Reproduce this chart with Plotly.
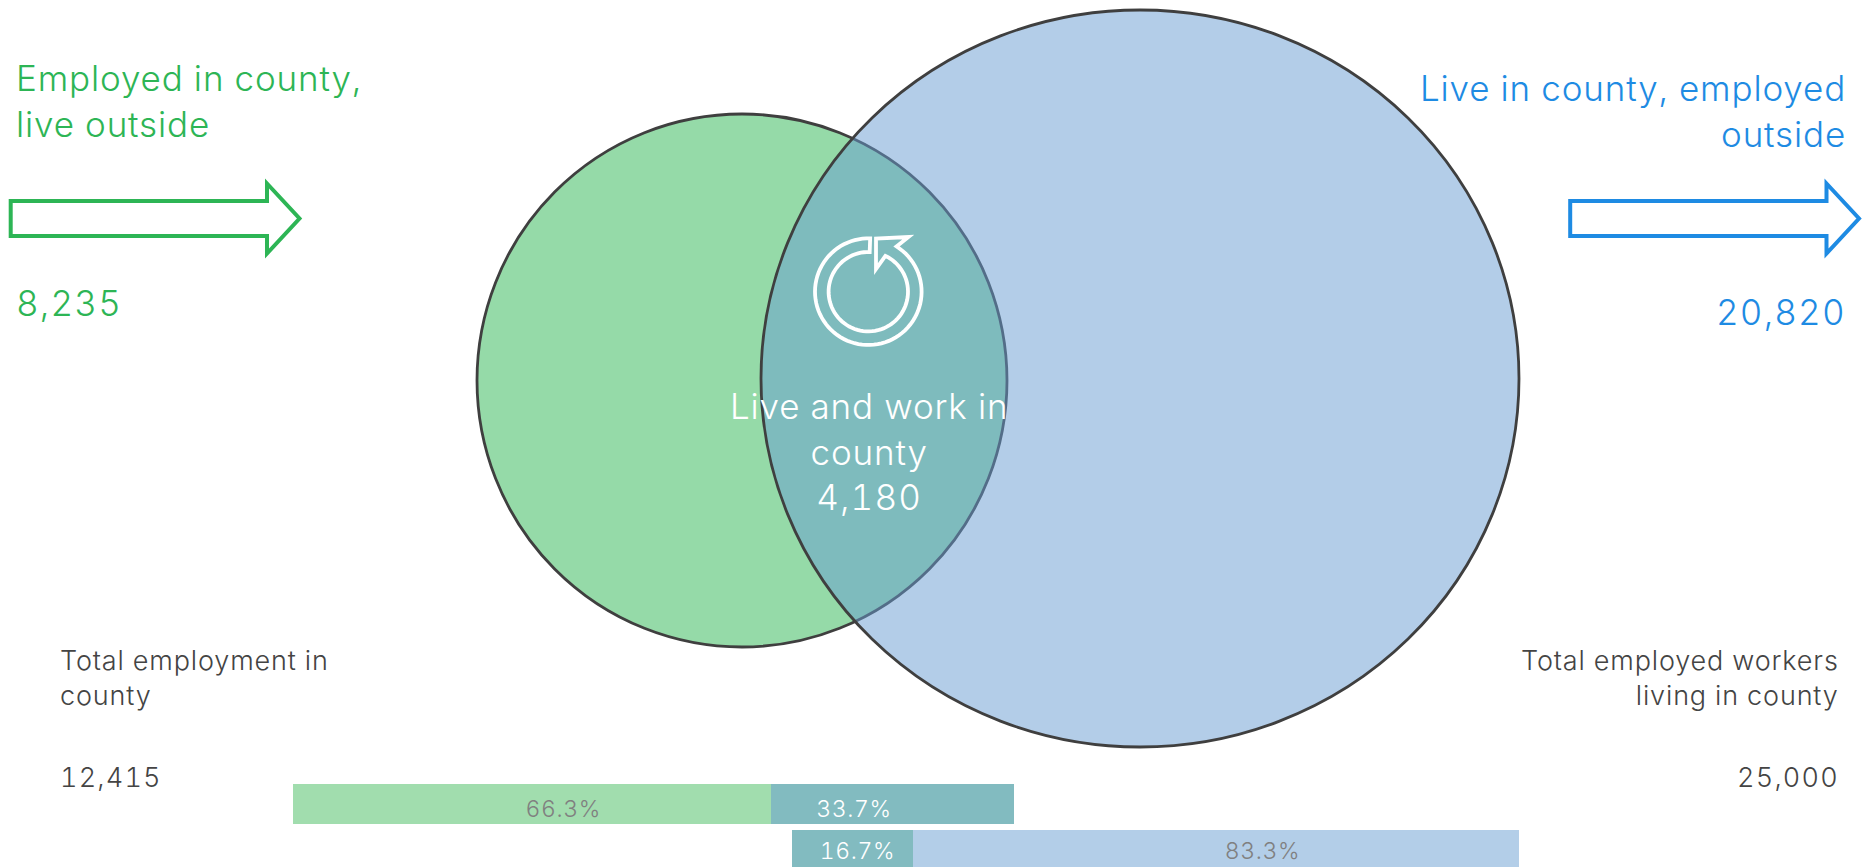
import numpy as np
import plotly.graph_objects as go

W, H = 1867, 867

# ---- data ----
outside_in = 8235
outside_out = 20820
live_work = 4180
total_employment = 12415
total_workers = 25000
employment_share_labels = ["66.3%", "33.7%"]
employment_share = [66.3, 33.7]
worker_share_labels = ["16.7%", "83.3%"]
worker_share = [16.7, 83.3]

GREEN = "#2DB555"
BLUE = "#1E8BE3"
DARK = "#444444"
FONT = "Inter"
WEIGHT = 300


def fx(x):
    return x / W


def fy(y):
    return 1 - y / H


fig = go.Figure()

# two stacked bars, each on its own pair of axes
bar_green = "#A1DDAE"
bar_mix = "#82BBC0"
bar_blue = "#B3CEE8"

fig.add_trace(go.Bar(x=[employment_share[0]], y=["a"], orientation="h", marker=dict(color=bar_green, line_width=0),
                     xaxis="x", yaxis="y", hoverinfo="skip", showlegend=False))
fig.add_trace(go.Bar(x=[employment_share[1]], y=["a"], orientation="h", marker=dict(color=bar_mix, line_width=0),
                     xaxis="x", yaxis="y", hoverinfo="skip", showlegend=False))
fig.add_trace(go.Bar(x=[worker_share[0]], y=["b"], orientation="h", marker=dict(color=bar_mix, line_width=0),
                     xaxis="x2", yaxis="y2", hoverinfo="skip", showlegend=False))
fig.add_trace(go.Bar(x=[worker_share[1]], y=["b"], orientation="h", marker=dict(color=bar_blue, line_width=0),
                     xaxis="x2", yaxis="y2", hoverinfo="skip", showlegend=False))

hidden = dict(visible=False, showgrid=False, zeroline=False, fixedrange=True)
layout_axes = dict(
    xaxis=dict(domain=[fx(293), fx(1014)], range=[0, 100], anchor="y", **hidden),
    yaxis=dict(domain=[fy(824), fy(784)], range=[-0.5, 0.5], anchor="x", **hidden),
    xaxis2=dict(domain=[fx(792), fx(1519)], range=[0, 100], anchor="y2", **hidden),
    # bar runs off the bottom edge of the picture
    yaxis2=dict(domain=[0, fy(830)], range=[-0.425, 0.5], anchor="x2", **hidden),
)

shapes = []


def ellipse(cx, cy, rx, ry, fill):
    shapes.append(dict(type="circle", xref="paper", yref="paper",
                       x0=fx(cx - rx), x1=fx(cx + rx), y0=fy(cy + ry), y1=fy(cy - ry),
                       fillcolor=fill, line=dict(color="#3F3F3F", width=2.8), layer="above"))


ellipse(742, 380.5, 265, 266.5, "rgba(44,181,82,0.5)")
ellipse(1140, 378.5, 379, 368.5, "rgba(103,155,209,0.5)")


def poly_path(pts):
    s = "M " + " L ".join(f"{fx(x):.6f},{fy(y):.6f}" for x, y in pts) + " Z"
    return s


def arrow(dx, color):
    pts = [(10.7, 201), (267, 201), (267, 183.5), (299.5, 218.5), (267, 253.5), (267, 236), (10.7, 236)]
    pts = [(x + dx, y) for x, y in pts]
    shapes.append(dict(type="path", xref="paper", yref="paper", path=poly_path(pts),
                       fillcolor="white", line=dict(color=color, width=4), layer="above"))


arrow(0, GREEN)
arrow(1559.5, BLUE)

# turn-around icon in the overlap
icx, icy = 868.3, 291.7
ro, ri = 53.3, 39.7
out_t = np.linspace(np.deg2rad(-58), np.deg2rad(-88 + 360), 80)
in_t = np.linspace(np.deg2rad(-88 + 360), np.deg2rad(-64.5), 80)
icon = [(icx + ro * np.cos(t), icy + ro * np.sin(t)) for t in out_t]
icon += [(icx + ri * np.cos(t), icy + ri * np.sin(t)) for t in in_t]
icon += [(876, 269), (876, 238.5), (908.5, 237)]
shapes.append(dict(type="path", xref="paper", yref="paper", path=poly_path(icon),
                   fillcolor="rgba(0,0,0,0)", line=dict(color="white", width=3.8), layer="above"))

annotations = []


def text(x, y, s, color, size, anchor="left"):
    annotations.append(dict(xref="paper", yref="paper", x=fx(x), y=fy(y), text=s, showarrow=False,
                            xanchor=anchor, yanchor="top", align=anchor,
                            xshift=0, yshift=0, borderpad=0, borderwidth=0,
                            font=dict(family=FONT, size=size, color=color, weight=WEIGHT)))


BIG = 35
SMALL = 27
PCT = 23
GREY = "#808080"
text(16, 57, "Employed in county,<br>live outside", GREEN, BIG)
text(16, 282, f"{outside_in:,}", GREEN, BIG)
text(1846, 67, "Live in county, employed<br>outside", BLUE, BIG, "right")
text(1846, 291, f"{outside_out:,}", BLUE, BIG, "right")
text(869, 385, f"Live and work in<br>county<br>{live_work:,}", "white", BIG, "center")
text(60, 644, "Total employment in<br>county", DARK, SMALL)
text(60, 761, f"{total_employment:,}", DARK, SMALL)
text(1839, 644, "Total employed workers<br>living in county", DARK, SMALL, "right")
text(1839, 761, f"{total_workers:,}", DARK, SMALL, "right")
text(563, 795, employment_share_labels[0], GREY, PCT, "center")
text(854, 795, employment_share_labels[1], "white", PCT, "center")
text(857, 837, worker_share_labels[0], "white", PCT, "center")
text(1262, 837, worker_share_labels[1], GREY, PCT, "center")

fig.update_layout(
    width=W, height=H, margin=dict(l=0, r=0, t=0, b=0, pad=0), autosize=False,
    paper_bgcolor="white", plot_bgcolor="rgba(0,0,0,0)", barmode="stack", bargap=0,
    showlegend=False, shapes=shapes, annotations=annotations, **layout_axes,
)

POST = """
document.body.style.margin='0';document.body.style.overflow='hidden';
document.querySelectorAll('.annotation-text').forEach(function(t){
  var lines=t.querySelectorAll('tspan.line');
  var els=lines.length?Array.from(lines):[t];
  els.forEach(function(e){
    var s=e.textContent, num=/^[\\d,.%]+$/.test(s);
    e.style.fontVariantNumeric='tabular-nums';
    e.style.letterSpacing=(num?(/%/.test(s)?'0.6px':'1.2px'):'0.85px');
  });
});
"""
fig.write_html("out.html", config=dict(displayModeBar=False), post_script=POST)
